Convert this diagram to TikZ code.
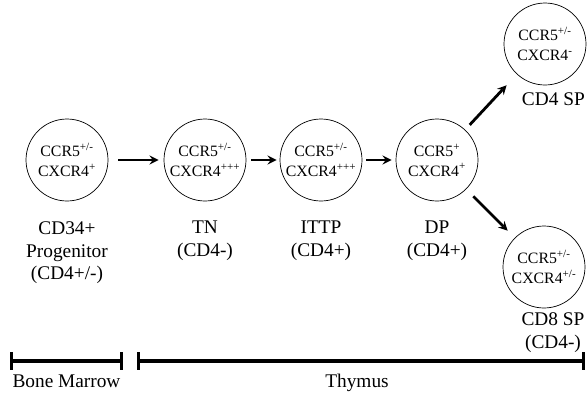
\documentclass[tikz,border=0pt]{standalone}
\usepackage{fontspec}
\setmainfont{Liberation Serif}
\usetikzlibrary{positioning, calc}
\tikzstyle{cell} = [circle, draw=black, line width=0.6pt, minimum size=2.46cm, inner sep=0pt, align=center, font=\fontsize{13.5}{17}\selectfont]
\tikzstyle{lbl} = [align=center, inner sep=0pt, font=\fontsize{16.5}{19.6}\selectfont]
\tikzstyle{arrow} = [->, >=stealth, line width=2.4pt]
\tikzstyle{zonebar} = [|-|, line width=2.8pt]

\begin{document}
\begin{tikzpicture}[node distance=3.48cm]
  \useasboundingbox (-2.01,-7.02) rectangle (15.6,4.8);
  %cells
  \node (prog) [cell] {CCR5\textsuperscript{+/-}\\CXCR4\textsuperscript{+}};
  \node (tn) [cell, right of=prog, xshift=0.66cm] {CCR5\textsuperscript{+/-}\\CXCR4\textsuperscript{+++}};
  \node (ittp) [cell, right of=tn] {CCR5\textsuperscript{+/-}\\CXCR4\textsuperscript{+++}};
  \node (dp) [cell, right of=ittp] {CCR5\textsuperscript{+}\\CXCR4\textsuperscript{+}};
  \node (cd4) [cell, above of=dp, xshift=3.24cm] {CCR5\textsuperscript{+/-}\\CXCR4\textsuperscript{-}};
  \node (cd8) [cell, below of=dp, xshift=3.21cm, yshift=0.27cm] {CCR5\textsuperscript{+/-}\\CXCR4\textsuperscript{+/-}};

  %labels
  \node (prog_lbl) [lbl, below=1.83cm of prog.center] {CD34+\\Progenitor\\(CD4+/-)};
  \node (tn_lbl) [lbl, below=1.83cm of tn.center] {TN\\(CD4-)};
  \node (ittp_lbl) [lbl, below=1.83cm of ittp.center] {ITTP\\(CD4+)};
  \node (dp_lbl) [lbl, below=1.83cm of dp.center] {DP\\(CD4+)};
  \node (cd4_lbl) [lbl, below=1.44cm of cd4.center, xshift=0.25cm] {CD4 SP};
  \node (cd8_lbl) [lbl, below=1.35cm of cd8.center, xshift=0.27cm] {CD8 SP\\(CD4-)};

  %arrows
  \draw [arrow, shorten <=0.3cm, shorten >=0.15cm] (prog) -- (tn);
  \draw [arrow, shorten <=0.15cm, shorten >=0.09cm] (tn) -- (ittp);
  \draw [arrow, shorten <=0.12cm, shorten >=0.12cm] (ittp) -- (dp);
  \draw [arrow, shorten <=0.2cm, shorten >=0.45cm] (dp) -- (cd4);
  \draw [arrow, shorten <=0.3cm, shorten >=0.3cm] (dp) -- (cd8);

  %bone marrow / thymus
  \coordinate (bm_l) at (-1.71,-6.03);
  \coordinate (bm_r) at (1.68,-6.03);
  \coordinate (th_l) at (2.1,-6.03);
  \coordinate (th_r) at (15.54,-6.03);
  \draw [zonebar] (bm_l) -- (bm_r);
  \draw [zonebar] (th_l) -- (th_r);
  \node (bm_lbl) [lbl, anchor=base] at ($(bm_l)!0.5!(bm_r)+(0,-0.78)$) {Bone Marrow};
  \node (th_lbl) [lbl, anchor=base] at ($(th_l)!0.5!(th_r)+(-0.12,-0.78)$) {Thymus};
\end{tikzpicture}
\end{document}
